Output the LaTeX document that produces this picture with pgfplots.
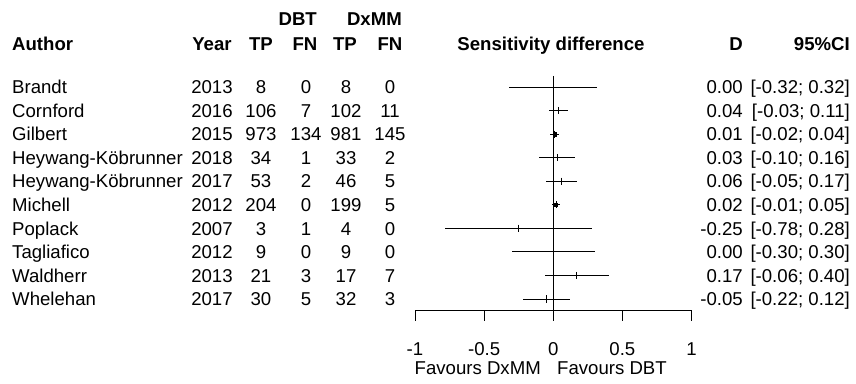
\documentclass[border=0pt]{standalone}
\usepackage{pgfplots}
\pgfplotsset{compat=1.18}
\usepackage{pgfplotstable}
\usepackage{fontspec}
\setmainfont{Liberation Sans}

% study, estimate (D) and 95% CI limits
\pgfplotstableread{
row d lo hi
1 0.00 -0.32 0.32
2 0.04 -0.03 0.11
3 0.01 -0.02 0.04
4 0.03 -0.10 0.16
5 0.06 -0.05 0.17
6 0.02 -0.01 0.05
7 -0.25 -0.78 0.28
8 0.00 -0.30 0.30
9 0.17 -0.06 0.40
10 -0.05 -0.22 0.12
}\forestdata

% pixel -> axis x, pixel -> axis y
\newcommand\px[1]{{(#1-553.25)/138.25}}
\newcommand\py[1]{{-(1+(#1-87)/23.56)}}
\tikzset{tx/.style={inner sep=0pt, yshift=-6.7pt}}

\newcommand\studyrow[9]{%
  \node[tx, anchor=base west] at (axis cs:\px{12},-#1) {#2};
  \node[tx, anchor=base] at (axis cs:\px{212},-#1) {#3};
  \node[tx, anchor=base] at (axis cs:\px{261},-#1) {#4};
  \node[tx, anchor=base] at (axis cs:\px{306},-#1) {#5};
  \node[tx, anchor=base] at (axis cs:\px{346},-#1) {#6};
  \node[tx, anchor=base] at (axis cs:\px{390},-#1) {#7};
  \node[tx, anchor=base east] at (axis cs:\px{743},-#1) {#8};
  \node[tx, anchor=base east] at (axis cs:\px{850},-#1) {#9};
}

\begin{document}
\fontsize{18.6pt}{22pt}\selectfont
\begin{tikzpicture}
\useasboundingbox (0,0) rectangle (856pt,-383pt);
\begin{axis}[
  scale only axis, width=276.5pt, height=235.6pt,
  at={(415pt,-75.2pt)}, anchor=north west,
  xmin=-1, xmax=1, ymin=-10.5, ymax=-0.5,
  axis x line=bottom, axis y line=none,
  axis line style={-, line width=0.9pt, black},
  every outer x axis line/.append style={-},
  xtick={-1,-0.5,0,0.5,1}, xticklabels={-1,-0.5,0,0.5,1},
  tick align=outside, major tick length=10pt,
  tick style={black, line width=0.9pt},
  xticklabel style={anchor=base, yshift=-34.7pt, inner sep=0pt},
  clip=false,
]
% reference line
\addplot[black, line width=0.9pt] coordinates {(0,-0.53) (0,-10.5)};
% confidence intervals and estimates
\addplot[black, only marks, mark=|, mark size=3.6pt,
  mark options={line width=0.9pt},
  error bars/.cd, x dir=both, x explicit, error mark=none,
  error bar style={line width=0.9pt, black}]
  table[x=d, y expr=-\thisrow{row},
        x error plus expr=\thisrow{hi}-\thisrow{d},
        x error minus expr=\thisrow{d}-\thisrow{lo}] {\forestdata};
% larger weight squares
\addplot[black, only marks, mark=square*, mark size=1.8pt] coordinates {(0.01,-3)};
\addplot[black, only marks, mark=square*, mark size=1.5pt] coordinates {(0.02,-6)};

% headers
\node[tx, anchor=base east, font=\bfseries] at (axis cs:\px{317},\py{18.5}) {DBT};
\node[tx, anchor=base east, font=\bfseries] at (axis cs:\px{402},\py{18.5}) {DxMM};
\node[tx, anchor=base west, font=\bfseries] at (axis cs:\px{12},\py{43.5}) {Author};
\node[tx, anchor=base, font=\bfseries] at (axis cs:\px{212},\py{43.5}) {Year};
\node[tx, anchor=base, font=\bfseries] at (axis cs:\px{261},\py{43.5}) {TP};
\node[tx, anchor=base, font=\bfseries] at (axis cs:\px{305},\py{43.5}) {FN};
\node[tx, anchor=base, font=\bfseries] at (axis cs:\px{345},\py{43.5}) {TP};
\node[tx, anchor=base, font=\bfseries] at (axis cs:\px{390},\py{43.5}) {FN};
\node[tx, anchor=base, font=\bfseries] at (axis cs:\px{551},\py{43.5}) {Sensitivity difference};
\node[tx, anchor=base east, font=\bfseries] at (axis cs:\px{743},\py{43.5}) {D};
\node[tx, anchor=base east, font=\bfseries] at (axis cs:\px{850},\py{43.5}) {95\%CI};

% study rows
\studyrow{1}{Brandt}{2013}{8}{0}{8}{0}{0.00}{[-0.32; 0.32]}
\studyrow{2}{Cornford}{2016}{106}{7}{102}{11}{0.04}{[-0.03; 0.11]}
\studyrow{3}{Gilbert}{2015}{973}{134}{981}{145}{0.01}{[-0.02; 0.04]}
\studyrow{4}{Heywang-Köbrunner}{2018}{34}{1}{33}{2}{0.03}{[-0.10; 0.16]}
\studyrow{5}{Heywang-Köbrunner}{2017}{53}{2}{46}{5}{0.06}{[-0.05; 0.17]}
\studyrow{6}{Michell}{2012}{204}{0}{199}{5}{0.02}{[-0.01; 0.05]}
\studyrow{7}{Poplack}{2007}{3}{1}{4}{0}{-0.25}{[-0.78; 0.28]}
\studyrow{8}{Tagliafico}{2012}{9}{0}{9}{0}{0.00}{[-0.30; 0.30]}
\studyrow{9}{Waldherr}{2013}{21}{3}{17}{7}{0.17}{[-0.06; 0.40]}
\studyrow{10}{Whelehan}{2017}{30}{5}{32}{3}{-0.05}{[-0.22; 0.12]}

% direction labels
\node[tx, anchor=base east] at (axis cs:\px{541},\py{368}) {Favours DxMM};
\node[tx, anchor=base west] at (axis cs:\px{557},\py{368}) {Favours DBT};
\end{axis}
\end{tikzpicture}
\end{document}
